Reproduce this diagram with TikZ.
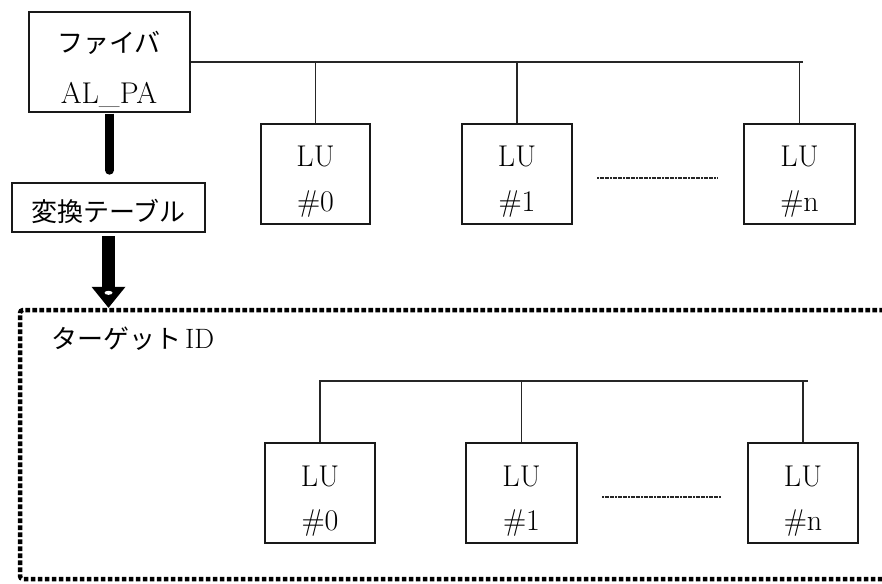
\documentclass[tikz,border=0pt]{standalone}
\usepackage{fontspec}
\newfontfamily\jp{Noto Sans CJK JP}
\begin{document}
\begin{tikzpicture}[x=1pt,y=-1pt,
  boxstyle/.style={draw=black!90,line width=1.6pt,inner sep=0pt},
  thin/.style={draw=black!85,line width=1.6pt},
  lbl/.style={inner sep=0pt,font=\fontsize{30}{32}\selectfont},
  jlbl/.style={inner sep=0pt,font=\jp\fontsize{26}{30}\selectfont},
  dotframe/.style={draw=black,line width=4.5pt,dash pattern=on 4.6pt off 2.4pt,rounded corners=3pt},
  dashline/.style={draw=black!85,line width=1.6pt,dash pattern=on 2pt off 0.6pt},
  thick connector/.style={draw=black,line width=9pt}]
\useasboundingbox (0,0) rectangle (882,583);
\clip (0,0) rectangle (882,583);
% fibre box
\node[boxstyle,minimum width=161pt,minimum height=100pt] (fib) at (109.5,62) {};
\node[jlbl] (fibA) at (109,43) {ファイバ};
\node[lbl,anchor=base] (fibB) at (109,103) {AL\_PA};
% table box
\node[boxstyle,minimum width=193pt,minimum height=49pt] (tab) at (108.5,207.5) {};
\node[jlbl] (tabt) at (108.5,211) {変換テーブル};
% thick connector
\coordinate (tcEnd) at ([yshift=12pt]tab.north -| fib.south);
\draw[thick connector] ([yshift=-0.8pt]fib.south) -- (tcEnd);
\fill[black] (tcEnd) circle (4.5pt);
% block arrow
\coordinate (ar0) at ([yshift=-3pt]tab.south);
\fill[black] ([xshift=-6.5pt]ar0) rectangle ([xshift=6.5pt,yshift=-54pt]ar0);
\fill[black] ([xshift=-17pt,yshift=-51pt]ar0) -- ([xshift=17pt,yshift=-51pt]ar0) -- ([yshift=-72pt]ar0) coordinate (artip) -- cycle;
\fill[white] ([yshift=-57pt]ar0) ellipse (4pt and 2pt);
% dotted frame
\draw[dotframe] (905,310) coordinate (fr1) -- (20,310) coordinate (fr2) -- (20,579) coordinate (fr3) -- (905,579) coordinate (fr4);
\node[jlbl,anchor=west] (tid) at (51,339) {ターゲット\hspace{4pt}{\fontspec{Latin Modern Roman}\fontsize{28}{30}\selectfont ID}};
% upper LUs
\foreach \nm/\x/\w/\t in {a0/315.5/109/0, a1/517/110/1, an/799.5/111/n}{
  \node[boxstyle,minimum width=\w pt,minimum height=100pt] (\nm) at (\x,174) {};
  \node[lbl] (\nm t) at (\x,156) {LU};
  \node[lbl] (\nm b) at (\x,204) {\#\t};
}
\coordinate (busU) at (803,62);
\draw[thin] (fib.east |- busU) -- (busU);
\foreach \nm in {a0,a1,an}{ \draw[thin] (\nm.north) -- (\nm.north |- busU); }
\coordinate (dU1) at (597,178); \coordinate (dU2) at (717,178);
\draw[dashline] (dU1) -- (dU2);
% lower LUs
\foreach \nm/\x/\w/\t in {b0/320/110/0, b1/521.5/111/1, bn/803/110/n}{
  \node[boxstyle,minimum width=\w pt,minimum height=100pt] (\nm) at (\x,493) {};
  \node[lbl] (\nm t) at (\x,476) {LU};
  \node[lbl] (\nm b) at (\x,523) {\#\t};
}
\coordinate (busL1) at (319,381); \coordinate (busL2) at (808,381);
\draw[thin] (busL1) -- (busL2);
\foreach \nm in {b0,b1,bn}{ \draw[thin] (\nm.north) -- (\nm.north |- busL1); }
\coordinate (dL1) at (602,497); \coordinate (dL2) at (721,497);
\draw[dashline] (dL1) -- (dL2);
\end{tikzpicture}
\end{document}
